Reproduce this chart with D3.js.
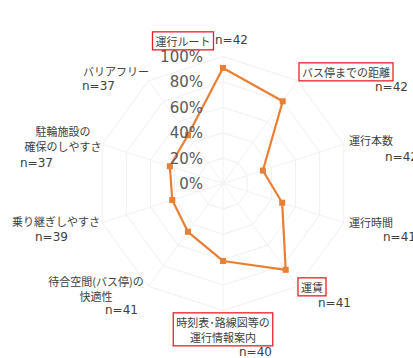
<!DOCTYPE html>
<html>
<head>
<meta charset="utf-8">
<script src="https://cdn.jsdelivr.net/npm/d3@7"></script>
<style>
  body { margin: 0; background: #fff; }
  svg { display: block; }
</style>
</head>
<body>
<script>
var width = 413;
var height = 358;

// categories, clockwise from the top
var categories = ["運行ルート", "バス停までの距離", "運行本数", "運行時間", "運賃",
                  "時刻表･路線図等の\n運行情報案内", "待合空間(バス停)の\n快適性",
                  "乗り継ぎしやすさ", "駐輪施設の\n確保のしやすさ", "バリアフリー"];
var counts = [42, 42, 42, 41, 41, 40, 41, 39, 37, 37];
var values = [0.91, 0.80, 0.33, 0.49, 0.84, 0.61, 0.47, 0.42, 0.44, 0.47];
var ticks = [0, 0.2, 0.4, 0.6, 0.8, 1.0];
var tickLabels = ["0%", "20%", "40%", "60%", "80%", "100%"];

// label placement (hand tuned like the original text boxes)
var labelLayout = [
  {x: 183, y: 42,  a: "middle", nx: 215, ny: 40,  box: true},
  {x: 346, y: 73,  a: "middle", nx: 375, ny: 87,  box: true},
  {x: 349, y: 141, a: "start",  nx: 385, ny: 157, box: false},
  {x: 349, y: 223, a: "start",  nx: 383, ny: 237, box: false},
  {x: 312, y: 288, a: "middle", nx: 318, ny: 303, box: true},
  {x: 223, y: 323, a: "middle", nx: 239, ny: 352, box: true},
  {x: 96,  y: 282, a: "middle", nx: 105, ny: 310, box: false},
  {x: 100, y: 222, a: "end",    nx: 35,  ny: 237, box: false},
  {x: 63,  y: 132, a: "middle", nx: 20,  ny: 163, box: false},
  {x: 83,  y: 72,  a: "start",  nx: 82,  ny: 86,  box: false}
];

var cx = 223, cy = 183.5;

var svg = d3.select("body").append("svg")
    .attr("width", width)
    .attr("height", height);

var r = d3.scaleLinear().domain([0, 1]).range([0, 127]);
var angle = d3.scaleLinear().domain([0, categories.length]).range([0, 2 * Math.PI]);

var g = svg.append("g").attr("transform", "translate(" + cx + "," + cy + ")");

// grid rings
var ring = d3.lineRadial()
    .angle(function(d, i) { return angle(i); })
    .radius(function(d) { return r(d); })
    .curve(d3.curveLinearClosed);

g.selectAll(".ring")
  .data(ticks.slice(1))
  .enter()
  .append("path")
  .attr("d", function(t) { return ring(categories.map(function() { return t; })); })
  .attr("fill", "none")
  .attr("stroke", "#f0f0f0")
  .attr("stroke-width", 1);

// spokes
g.selectAll(".spoke")
  .data(categories)
  .enter()
  .append("line")
  .attr("x1", 0).attr("y1", 0)
  .attr("x2", function(d, i) { return r(1) * Math.sin(angle(i)); })
  .attr("y2", function(d, i) { return -r(1) * Math.cos(angle(i)); })
  .attr("stroke", "#f2f2f2")
  .attr("stroke-width", 1);

// series
g.append("path")
  .attr("d", ring(values))
  .attr("fill", "none")
  .attr("stroke", "#E97E35")
  .attr("stroke-width", 2.2)
  .attr("stroke-linejoin", "round");

g.selectAll(".pt")
  .data(values)
  .enter()
  .append("rect")
  .attr("x", function(d, i) { return r(d) * Math.sin(angle(i)) - 3; })
  .attr("y", function(d, i) { return -r(d) * Math.cos(angle(i)) - 3; })
  .attr("width", 6)
  .attr("height", 6)
  .attr("fill", "#E97E35");

// tick labels up the first axis
g.selectAll(".tick")
  .data(ticks)
  .enter()
  .append("text")
  .attr("x", -20)
  .attr("y", function(d) { return -r(d); })
  .attr("dy", "0.36em")
  .attr("text-anchor", "end")
  .attr("font-family", "DejaVu Sans, sans-serif")
  .attr("font-size", 15)
  .attr("fill", "#595959")
  .text(function(d, i) { return tickLabels[i]; });

// category labels
categories.forEach(function(c, i) {
  var L = labelLayout[i];
  var lines = c.split("\n");
  var t = svg.append("text")
      .attr("text-anchor", L.a)
      .attr("font-family", "Noto Sans CJK JP, sans-serif")
      .attr("font-size", 11)
      .attr("fill", "#404040");
  lines.forEach(function(s, k) {
    t.append("tspan")
      .attr("x", L.x)
      .attr("y", L.y + k * 15)
      .attr("dy", "0.35em")
      .text(s);
  });
  if (L.box) {
    var b = t.node().getBBox();
    svg.insert("rect", function() { return t.node(); })
      .attr("x", b.x - 3)
      .attr("y", b.y - 1)
      .attr("width", b.width + 6)
      .attr("height", b.height + 2)
      .attr("fill", "#fff")
      .attr("stroke", "#e8202a")
      .attr("stroke-width", 1.3);
  }
  svg.append("text")
    .attr("x", L.nx)
    .attr("y", L.ny)
    .attr("dy", "0.35em")
    .attr("font-family", "DejaVu Sans, sans-serif")
    .attr("font-size", 12)
    .attr("fill", "#404040")
    .text("n=" + counts[i]);
});
</script>
</body>
</html>
